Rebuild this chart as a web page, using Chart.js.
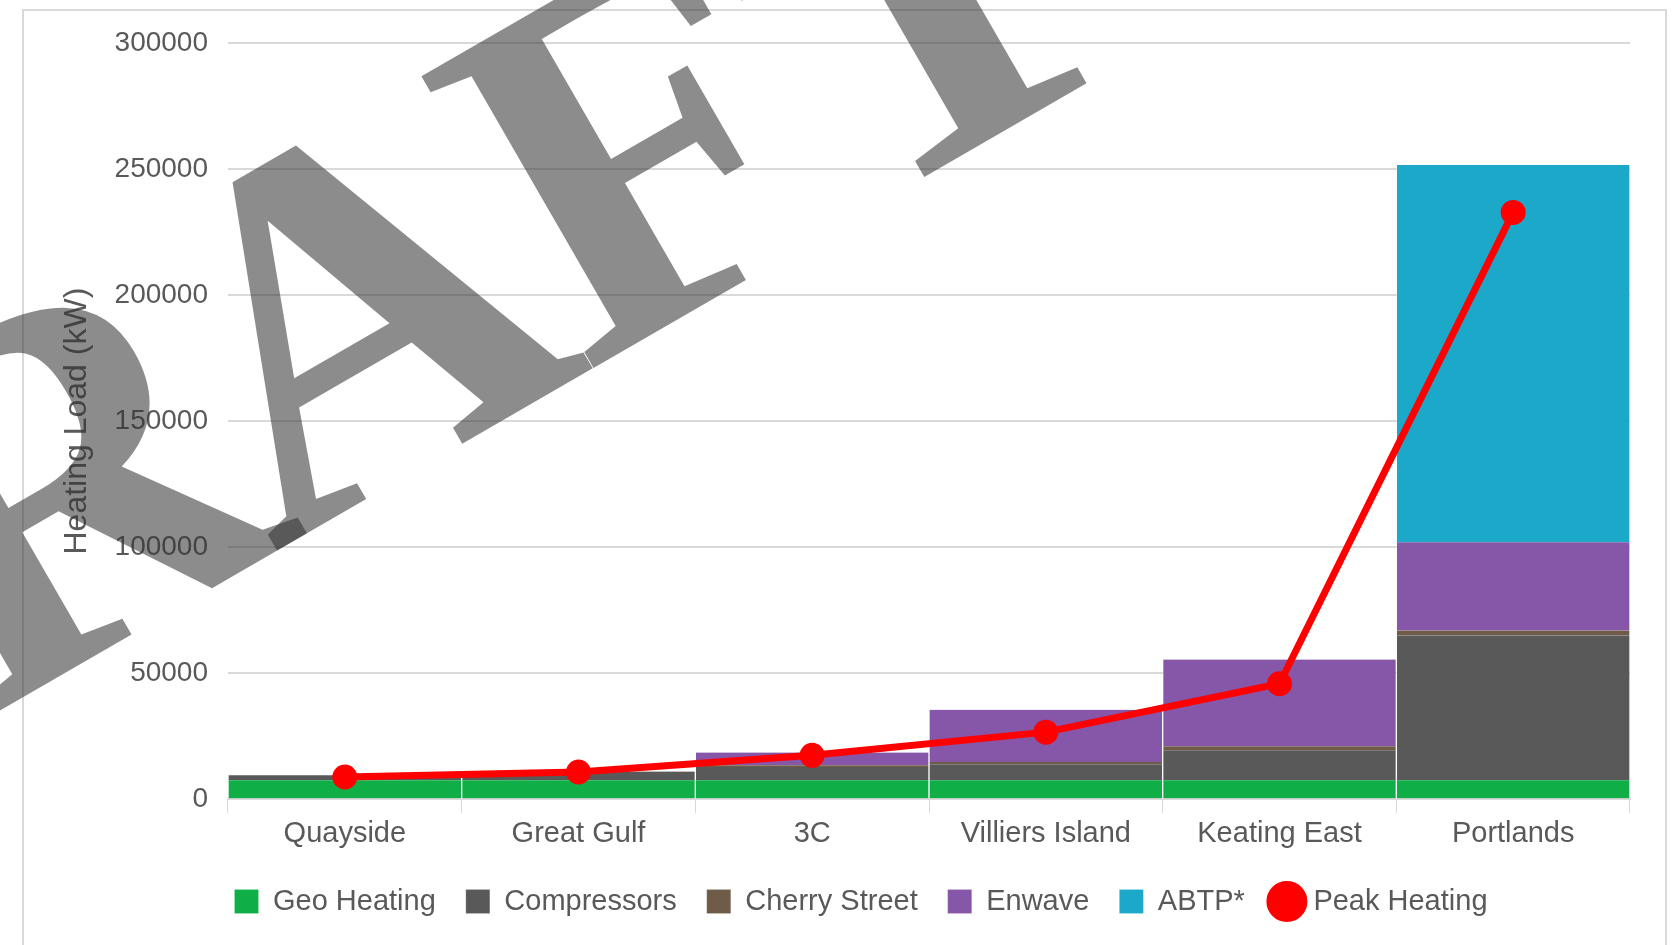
<!DOCTYPE html>
<html>
<head>
<meta charset="utf-8">
<script src="https://cdn.jsdelivr.net/npm/chart.js@4.4.1/dist/chart.umd.min.js"></script>
<style>
  html, body { margin: 0; padding: 0; background: #fff; }
  #wrap { width: 1676px; height: 945px; }
</style>
</head>
<body>
<div id="wrap"><canvas id="chart_heating"></canvas></div>
<script>
const sites = ['Quayside', 'Great Gulf', '3C', 'Villiers Island', 'Keating East', 'Portlands'];

const geoHeating   = [7500, 7500, 7500, 7500, 7500, 7500];
const compressors  = [2000, 3500, 5300, 6400, 11900, 57400];
const cherryStreet = [0, 0, 700, 900, 1600, 2000];
const enwave       = [0, 0, 5000, 20700, 34400, 35000];
const abtp         = [0, 0, 0, 0, 0, 149700];
const peakHeating  = [8800, 10800, 17400, 26600, 45800, 232800];

const yTicks = [0, 50000, 100000, 150000, 200000, 250000, 300000];

const colors = {
    green: '#0fae47',
    grey: '#595959',
    brown: '#6f5c48',
    purple: '#8656a8',
    cyan: '#1ba8c9',
    red: '#ff0000',
    text: '#595959',
    grid: '#d9d9d9'
};

// white page with the thin frame round the chart
const framePlugin = {
    id: 'frame',
    beforeDraw(chart) {
        const ctx = chart.ctx;
        ctx.save();
        ctx.fillStyle = '#fff';
        ctx.fillRect(0, 0, chart.width, chart.height);
        ctx.strokeStyle = colors.grid;
        ctx.lineWidth = 2;
        ctx.strokeRect(23, 10, 1643, 960);
        ctx.restore();
    }
};

// nudge the legend row a little right of the layout centre and slightly down
const legendShift = {
    id: 'legendShift',
    afterLayout(chart) {
        chart.legend.left += 26;
        chart.legend.right += 26;
        chart.legend.top += 3;
        chart.legend.bottom += 3;
    }
};

// big grey stamp, one letter at a time so overlapping letters darken
const stampLetters = ['D', 'R', 'A', 'F', 'T'];
const stampNudge = [50, 50, 15, 0, 0];
const stampPlugin = {
    id: 'stamp',
    afterDraw(chart) {
        const ctx = chart.ctx;
        ctx.save();
        ctx.translate(-387, 934);
        ctx.rotate(-Math.PI / 6);
        ctx.font = 'bold 517px "Liberation Serif"';
        ctx.fillStyle = 'rgba(50, 50, 50, 0.56)';
        ctx.textAlign = 'left';
        ctx.textBaseline = 'alphabetic';
        let x = 0;
        stampLetters.forEach((ch, i) => {
            ctx.fillText(ch, x + stampNudge[i], 0);
            x += ctx.measureText(ch).width;
        });
        ctx.restore();
    }
};

function barSet(label, data, color) {
    return {
        type: 'bar',
        label: label,
        data: data,
        backgroundColor: color,
        borderColor: 'rgba(255, 255, 255, 0.3)',
        borderWidth: { left: 1, right: 1, top: 0, bottom: 0 },
        pointStyle: 'rect',
        stack: 'supply',
        order: 1
    };
}

const ctx = document.getElementById('chart_heating').getContext('2d');
const chart = new Chart(ctx, {
    data: {
        labels: sites,
        datasets: [
            barSet('Geo Heating', geoHeating, colors.green),
            barSet('Compressors', compressors, colors.grey),
            barSet('Cherry Street', cherryStreet, colors.brown),
            barSet('Enwave', enwave, colors.purple),
            barSet('ABTP*', abtp, colors.cyan),
            {
                type: 'line',
                label: 'Peak Heating',
                data: peakHeating,
                borderColor: colors.red,
                backgroundColor: colors.red,
                pointBackgroundColor: colors.red,
                pointBorderColor: colors.red,
                borderWidth: 7,
                pointRadius: 9,
                pointStyle: 'circle',
                tension: 0,
                stack: 'peak',
                order: 0
            }
        ]
    },
    options: {
        responsive: true,
        maintainAspectRatio: false,
        animation: false,
        layout: { padding: { left: 40, right: 46, top: 43, bottom: 22 } },
        datasets: { bar: { barPercentage: 1, categoryPercentage: 1 } },
        scales: {
            x: {
                stacked: true,
                grid: {
                    offset: true,
                    drawOnChartArea: false,
                    drawTicks: true,
                    tickLength: 14,
                    color: colors.grid
                },
                border: { display: true, color: colors.grid, width: 2 },
                ticks: {
                    color: colors.text,
                    padding: 3,
                    font: { family: '"Liberation Sans", Arial', size: 29 }
                }
            },
            y: {
                stacked: true,
                min: 0,
                max: 300000,
                afterFit(scale) { scale.width = 188; },
                afterBuildTicks(scale) { scale.ticks = yTicks.map(v => ({ value: v })); },
                grid: { color: colors.grid, lineWidth: 2, drawTicks: false },
                border: { display: false },
                ticks: {
                    color: colors.text,
                    padding: 20,
                    font: { family: '"Liberation Sans", Arial', size: 28 },
                    callback: v => String(v)
                },
                title: {
                    display: true,
                    text: 'Heating Load (kW)',
                    color: colors.text,
                    padding: { top: 18, bottom: 0 },
                    font: { family: '"Liberation Sans", Arial', size: 32, weight: 'normal' }
                }
            }
        },
        plugins: {
            legend: {
                position: 'bottom',
                labels: {
                    usePointStyle: true,
                    boxWidth: 24,
                    boxHeight: 24,
                    padding: 30,
                    color: colors.text,
                    font: { family: '"Liberation Sans", Arial', size: 29 },
                    sort: (a, b) => a.datasetIndex - b.datasetIndex
                }
            },
            tooltip: { enabled: false }
        }
    },
    plugins: [framePlugin, legendShift, stampPlugin]
});
</script>
</body>
</html>
